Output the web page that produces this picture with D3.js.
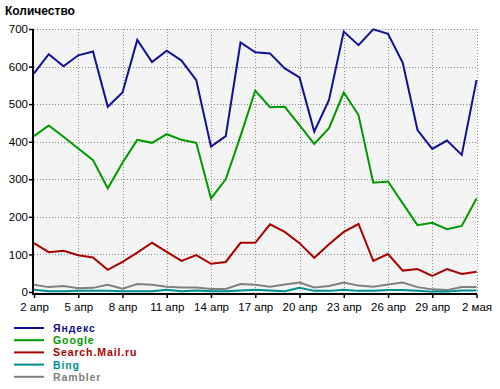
<!DOCTYPE html>
<html><head><meta charset="utf-8">
<script src="https://cdn.jsdelivr.net/npm/d3@7"></script>
<style>body{margin:0;background:#fff} svg text{font-family:"Liberation Sans",Arial,sans-serif}</style>
</head><body><svg id="c" width="500" height="389"></svg>
<script>
const days = ["2 апр","3 апр","4 апр","5 апр","6 апр","7 апр","8 апр","9 апр","10 апр","11 апр","12 апр","13 апр","14 апр","15 апр","16 апр","17 апр","18 апр","19 апр","20 апр","21 апр","22 апр","23 апр","24 апр","25 апр","26 апр","27 апр","28 апр","29 апр","30 апр","1 мая","2 мая"];
const tickLabels = ["2 апр","5 апр","8 апр","11 апр","14 апр","17 апр","20 апр","23 апр","26 апр","29 апр","2 мая"];
const yTicks = [0,100,200,300,400,500,600,700];
const seriesNames = ["Яндекс","Google","Search.Mail.ru","Bing","Rambler"];
const seriesColors = ["#101099","#009900","#aa0000","#008f8f","#808080"];
const yandex = [582,633,601,630,640,493,531,671,612,642,616,564,387,415,664,638,635,595,571,427,511,693,657,699,687,610,431,381,403,365,564];
const google = [415,443,413,382,351,276,344,405,397,420,405,397,249,300,415,536,492,493,444,394,436,531,471,291,294,236,178,184,167,176,249];
const mail = [130,106,110,98,92,59,80,105,131,107,83,98,75,80,131,131,180,160,130,91,127,160,181,83,101,57,61,43,61,48,54];
const bing = [6,2,2,3,3,3,2,2,2,6,2,4,2,2,4,6,4,2,11,3,3,6,3,3,5,5,3,1,1,4,4];
const rambler = [19,13,16,10,11,19,9,21,19,14,12,12,8,8,21,19,14,20,25,12,16,25,17,14,20,25,13,7,5,13,13];
const seriesValues = [yandex, google, mail, bing, rambler];

const svg = d3.select("#c");
const x = d3.scalePoint().domain(days).range([34, 476.5]);
const y = d3.scaleLinear().domain([0, 700]).range([292, 29]);

// plot background
svg.append("rect").attr("x", 34).attr("y", 29).attr("width", 443).attr("height", 265).attr("fill", "#f4f4f4");

// grid
svg.append("g").selectAll("line").data(yTicks.filter(d => d > 0)).join("line")
  .attr("x1", 34).attr("x2", 477).attr("y1", d => Math.round(y(d)) + 0.5).attr("y2", d => Math.round(y(d)) + 0.5)
  .attr("stroke", "#8c8c8c").attr("stroke-dasharray", "1,2");
svg.append("g").selectAll("line").data(tickLabels.slice(1)).join("line")
  .attr("x1", d => Math.round(x(d)) + 0.5).attr("x2", d => Math.round(x(d)) + 0.5).attr("y1", 29).attr("y2", 293)
  .attr("stroke", "#8c8c8c").attr("stroke-dasharray", "1,2");

// title
svg.append("text").attr("x", 5).attr("y", 15).attr("font-size", 12).attr("font-weight", "bold").text("Количество");

// lines
const line = d3.line().x((d, i) => x(days[i])).y(d => y(d));
const order = [4, 3, 2, 1, 0];
order.forEach(k => {
  svg.append("path").datum(seriesValues[k]).attr("d", line)
    .attr("fill", "none").attr("stroke", seriesColors[k]).attr("stroke-width", 2).attr("stroke-linejoin", "miter");
});

// axes
const yAxis = svg.append("g").attr("transform", "translate(33,0)")
  .call(d3.axisLeft(y).tickValues(yTicks).tickSize(4).tickPadding(1).tickFormat(d3.format("d")));
const xAxis = svg.append("g").attr("transform", "translate(0,294)")
  .call(d3.axisBottom(x).tickValues(tickLabels).tickSize(4).tickPadding(5));
[yAxis, xAxis].forEach(g => {
  g.select(".domain").attr("stroke", "#000").attr("stroke-width", 2);
  g.selectAll(".tick line").attr("stroke", "#000").attr("stroke-width", 1.5);
  g.selectAll(".tick text").attr("font-size", 11.5).attr("fill", "#000").attr("font-family", "Liberation Sans, Arial, sans-serif");
});
yAxis.select(".domain").attr("d", "M0,29V295");
xAxis.select(".domain").attr("d", "M32,0H477");

// legend
const leg = svg.append("g").selectAll("g").data(seriesNames).join("g")
  .attr("transform", (d, i) => `translate(0,${[328, 340.2, 352.4, 364.6, 376.8][i]})`);
leg.append("line").attr("x1", 14).attr("x2", 44).attr("y1", 0).attr("y2", 0)
  .attr("stroke", (d, i) => seriesColors[i]).attr("stroke-width", 2);
leg.append("text").attr("x", 53).attr("y", 4).attr("font-size", 10.5).attr("font-weight", "bold")
  .attr("letter-spacing", 0.9)
  .attr("fill", (d, i) => seriesColors[i]).text(d => d);
</script></body></html>
